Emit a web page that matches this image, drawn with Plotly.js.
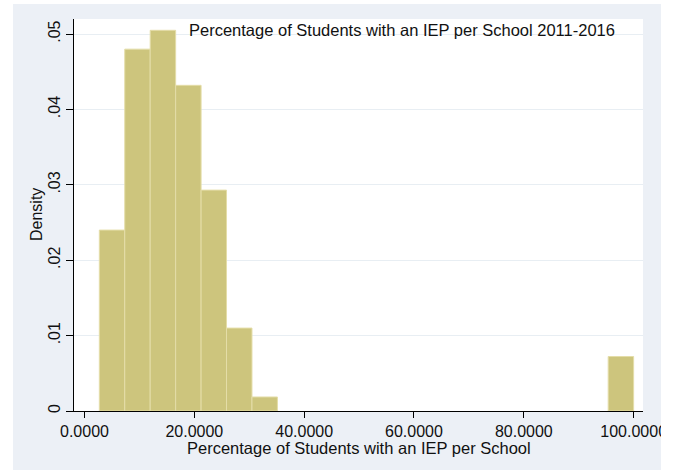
<!DOCTYPE html>
<html>
<head>
<meta charset="utf-8">
<script src="https://cdn.plot.ly/plotly-3.0.1.min.js"></script>
<style>
  html, body { margin: 0; padding: 0; background: #ffffff; width: 677px; height: 470px; overflow: hidden; }
  #chart { position: absolute; left: 13px; top: 4px; width: 648px; height: 466px; overflow: hidden; }
</style>
</head>
<body>
<div id="chart"></div>
<script>
// Histogram data (density per bin)
const binStart = 2.7;
const binWidth = 4.633;
const density = [0.0240, 0.0480, 0.0505, 0.0432, 0.0293, 0.0110, 0.00186,
                 0, 0, 0, 0, 0, 0, 0, 0, 0, 0, 0, 0, 0, 0.00723];
const xTickVals = [0, 20, 40, 60, 80, 100];
const xTickText = ['0.0000', '20.0000', '40.0000', '60.0000', '80.0000', '100.0000'];
const yTickVals = [0, 0.01, 0.02, 0.03, 0.04, 0.05];
const yTickText = ['0', '.01', '.02', '.03', '.04', '.05'];
const chartTitle = 'Percentage of Students with an IEP per School 2011-2016';
const xTitle = 'Percentage of Students with an IEP per School';
const yTitle = 'Density';

const xs = [], ys = [];
density.forEach((d, i) => {
  if (d > 0) { xs.push(binStart + (i + 0.5) * binWidth); ys.push(d); }
});

const font = { family: '"Liberation Sans", Arial, sans-serif', size: 16, color: '#111111' };
const titleFont = { family: '"Liberation Sans", Arial, sans-serif', size: 16.5, color: '#111111' };

const trace = {
  type: 'bar',
  x: xs,
  y: ys,
  width: binWidth,
  marker: { color: '#cdc57d', line: { color: '#e4dda8', width: 1 } },
  hoverinfo: 'x+y'
};

const layout = {
  width: 648,
  height: 466,
  margin: { l: 61, r: 18, t: 15, b: 59, pad: 0 },
  paper_bgcolor: '#ecf0f6',
  plot_bgcolor: '#ffffff',
  font: font,
  showlegend: false,
  xaxis: {
    range: [-1.91, 101.7],
    tickvals: xTickVals,
    ticktext: xTickText,
    ticklabeloverflow: 'allow',
    showgrid: false,
    zeroline: false,
    showline: true,
    linecolor: '#000000',
    linewidth: 1,
    ticks: 'outside',
    ticklen: 6,
    tickwidth: 1,
    tickcolor: '#000000',
    tickfont: font,
    fixedrange: true
  },
  yaxis: {
    range: [0, 0.0520],
    tickvals: yTickVals,
    ticktext: yTickText,
    tickangle: -90,
    showgrid: true,
    gridcolor: '#e8eef3',
    gridwidth: 1,
    zeroline: false,
    showline: true,
    linecolor: '#000000',
    linewidth: 1,
    ticks: 'outside',
    ticklen: 7,
    tickwidth: 1,
    tickcolor: '#000000',
    tickfont: font,
    fixedrange: true
  },
  annotations: [
    {
      text: chartTitle, xref: 'paper', yref: 'paper',
      x: 0.1986, y: 1, xanchor: 'left', yanchor: 'top',
      showarrow: false, font: titleFont, yshift: 0
    },
    {
      text: xTitle, xref: 'paper', yref: 'paper',
      x: 0.5, y: 0, xanchor: 'center', yanchor: 'top',
      showarrow: false, font: titleFont, yshift: -26
    },
    {
      text: yTitle, xref: 'paper', yref: 'paper',
      x: 0, y: 0.5, xanchor: 'center', yanchor: 'middle',
      textangle: -90, showarrow: false, font: font, xshift: -38
    }
  ]
};

Plotly.newPlot('chart', [trace], layout, { displayModeBar: false, staticPlot: true });
</script>
</body>
</html>
